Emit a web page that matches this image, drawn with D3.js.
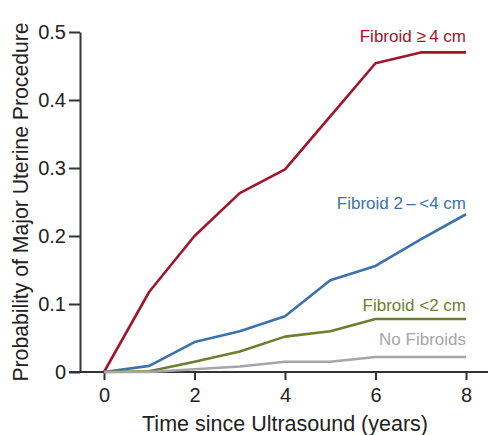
<!DOCTYPE html>
<html>
<head>
<meta charset="utf-8">
<script src="https://cdn.jsdelivr.net/npm/d3@7"></script>
<style>
  body { margin: 0; background: #fff; }
  svg { display: block; font-family: 'Liberation Sans', Arial, sans-serif; }
</style>
</head>
<body>
<div class="container"></div>
<script>
const years = [0, 1, 2, 3, 4, 5, 6, 7, 8]
const large = [0, 0.118, 0.2, 0.263, 0.298, 0.376, 0.454, 0.47, 0.47]
const medium = [0, 0.009, 0.044, 0.06, 0.082, 0.135, 0.156, 0.195, 0.232]
const small = [0, 0.001, 0.015, 0.03, 0.052, 0.06, 0.078, 0.078, 0.078]
const none = [0, 0, 0.004, 0.008, 0.015, 0.015, 0.022, 0.022, 0.022]
const seriesNames = ['Fibroid ≥\u20094 cm', 'Fibroid 2\u2009–\u2009<4 cm', 'Fibroid <2 cm', 'No Fibroids']
const xTicks = [0, 2, 4, 6, 8]
const yTicks = [0, 0.1, 0.2, 0.3, 0.4, 0.5]

const w = 488
const h = 435

const series = [
  { name: seriesNames[0], values: large, color: '#a3142b', labelY: 0.486 },
  { name: seriesNames[1], values: medium, color: '#3b72ae', labelY: 0.24 },
  { name: seriesNames[2], values: small, color: '#6d7f2f', labelY: 0.09 },
  { name: seriesNames[3], values: none, color: '#a6a6a6', labelY: 0.04 }
]

const svg = d3.select('.container')
  .append('svg')
  .attr('width', w)
  .attr('height', h)

const xScale = d3.scaleLinear().domain([0, 8]).range([104, 466])
const yScale = d3.scaleLinear().domain([0, 0.5]).range([372, 32])

const fmt = d => d === 0 ? '0' : d3.format('.1f')(d)

// y axis
const yAxis = svg.append('g')
  .attr('transform', 'translate(80, 0)')
  .call(d3.axisLeft(yScale).tickValues(yTicks).tickFormat(fmt).tickSize(11).tickSizeOuter(0).tickPadding(3))
yAxis.select('.domain').attr('stroke', '#333').attr('stroke-width', 2)
yAxis.selectAll('.tick line').attr('stroke', '#333').attr('stroke-width', 2)
yAxis.selectAll('.tick text').attr('font-size', 20).attr('fill', '#222')

// x axis
const xAxis = svg.append('g')
  .attr('transform', 'translate(0, 372)')
  .call(d3.axisBottom(xScale).tickValues(xTicks).tickSize(8).tickSizeOuter(0).tickPadding(8))
xAxis.select('.domain').attr('d', `M69,0H${w}`).attr('stroke', '#333').attr('stroke-width', 2)
xAxis.selectAll('.tick line').attr('stroke', '#333').attr('stroke-width', 2)
xAxis.selectAll('.tick text').attr('font-size', 20).attr('fill', '#222')

const line = d3.line()
  .x((d, i) => xScale(years[i]))
  .y(d => yScale(d))

svg.selectAll('path.series')
  .data(series)
  .enter()
  .append('path')
  .attr('class', 'series')
  .attr('d', d => line(d.values))
  .attr('fill', 'none')
  .attr('stroke', d => d.color)
  .attr('stroke-width', 2.6)
  .attr('stroke-linejoin', 'round')

svg.selectAll('text.label')
  .data(series)
  .enter()
  .append('text')
  .attr('class', 'label')
  .text(d => d.name)
  .attr('x', xScale(8))
  .attr('y', d => yScale(d.labelY))
  .attr('text-anchor', 'end')
  .attr('font-size', 17)
  .attr('fill', d => d.color)

svg.append('text')
  .text('Time since Ultrasound (years)')
  .attr('x', 285)
  .attr('y', 431)
  .attr('text-anchor', 'middle')
  .attr('font-size', 21.5)
  .attr('fill', '#222')

svg.append('text')
  .text('Probability of Major Uterine Procedure')
  .attr('transform', 'translate(28, 202) rotate(-90)')
  .attr('text-anchor', 'middle')
  .attr('font-size', 21.2)
  .attr('fill', '#222')
</script>
</body>
</html>
